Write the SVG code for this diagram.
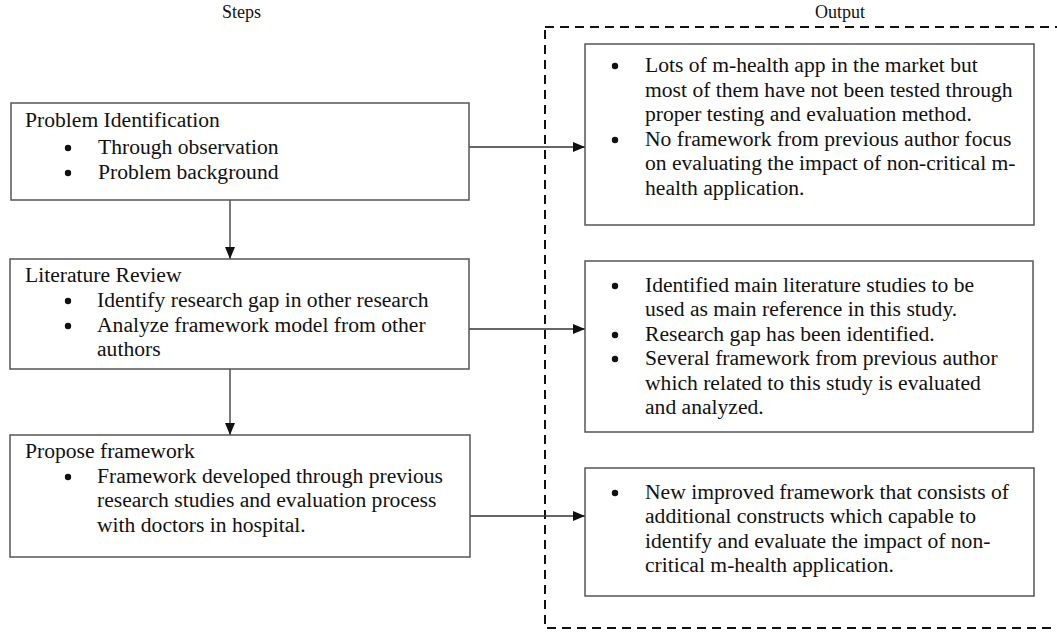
<svg xmlns="http://www.w3.org/2000/svg" width="1057" height="632" viewBox="0 0 1057 632">
<defs>
<style>
text{font-family:"Liberation Serif","Times New Roman",serif;font-size:21.6px;fill:#111}
.box{fill:#fff;stroke:#555;stroke-width:1.5}
.conn{stroke:#333;stroke-width:1.3;fill:none}
.dash{fill:none;stroke:#111;stroke-width:2;stroke-dasharray:9,6}
.bul{fill:#111}
</style>
<marker id="ah" viewBox="0 0 12 10" refX="12" refY="5" markerWidth="12" markerHeight="10" markerUnits="userSpaceOnUse" orient="auto"><path d="M0,0 L12,5 L0,10 Z" fill="#111"/></marker>
</defs>
<rect width="1057" height="632" fill="#fff"/>
<text x="222" y="18" style="font-size:18px">Steps</text>
<text x="815" y="18" style="font-size:18px">Output</text>
<rect class="dash" x="545" y="27" width="530" height="601"/>
<g id="connectors">
<line class="conn" x1="469" y1="147" x2="585" y2="147" marker-end="url(#ah)"/>
<line class="conn" x1="469" y1="329" x2="585" y2="329" marker-end="url(#ah)"/>
<line class="conn" x1="470" y1="516" x2="585" y2="516" marker-end="url(#ah)"/>
<line class="conn" x1="230" y1="200" x2="230" y2="259" marker-end="url(#ah)"/>
<line class="conn" x1="230" y1="369" x2="230" y2="435" marker-end="url(#ah)"/>
</g>
<g id="problem">
<rect class="box" x="11" y="103" width="458" height="97"/>
<text x="25" y="127">Problem Identification</text>
<circle class="bul" cx="68" cy="148" r="3.2"/><text x="98" y="154">Through observation</text>
<circle class="bul" cx="68" cy="173" r="3.2"/><text x="98" y="179">Problem background</text>
</g>
<g id="literature">
<rect class="box" x="10" y="259" width="459" height="110"/>
<text x="25" y="282">Literature Review</text>
<circle class="bul" cx="68" cy="301" r="3.2"/><text x="97" y="307">Identify research gap in other research</text>
<circle class="bul" cx="68" cy="326" r="3.2"/><text x="97" y="332">Analyze framework model from other</text>
<text x="97" y="356">authors</text>
</g>
<g id="propose">
<rect class="box" x="10" y="435" width="460" height="122"/>
<text x="25" y="458">Propose framework</text>
<circle class="bul" cx="68" cy="477" r="3.2"/><text x="97" y="483">Framework developed through previous</text>
<text x="97" y="507">research studies and evaluation process</text>
<text x="97" y="532">with doctors in hospital.</text>
</g>
<g id="out1">
<rect class="box" x="585" y="44" width="449" height="181"/>
<circle class="bul" cx="615" cy="66" r="3.2"/><text x="645" y="72">Lots of m-health app in the market but</text>
<text x="645" y="97">most of them have not been tested through</text>
<text x="645" y="121">proper testing and evaluation method.</text>
<circle class="bul" cx="615" cy="140" r="3.2"/><text x="645" y="146">No framework from previous author focus</text>
<text x="645" y="170">on evaluating the impact of non-critical m-</text>
<text x="645" y="195">health application.</text>
</g>
<g id="out2">
<rect class="box" x="585" y="261" width="448" height="171"/>
<circle class="bul" cx="615" cy="286" r="3.2"/><text x="645" y="292">Identified main literature studies to be</text>
<text x="645" y="316">used as main reference in this study.</text>
<circle class="bul" cx="615" cy="335" r="3.2"/><text x="645" y="341">Research gap has been identified.</text>
<circle class="bul" cx="615" cy="359" r="3.2"/><text x="645" y="365">Several framework from previous author</text>
<text x="645" y="390">which related to this study is evaluated</text>
<text x="645" y="414">and analyzed.</text>
</g>
<g id="out3">
<rect class="box" x="585" y="468" width="449" height="128"/>
<circle class="bul" cx="615" cy="493" r="3.2"/><text x="645" y="499">New improved framework that consists of</text>
<text x="645" y="523">additional constructs which capable to</text>
<text x="645" y="548">identify and evaluate the impact of non-</text>
<text x="645" y="572">critical m-health application.</text>
</g>
</svg>
